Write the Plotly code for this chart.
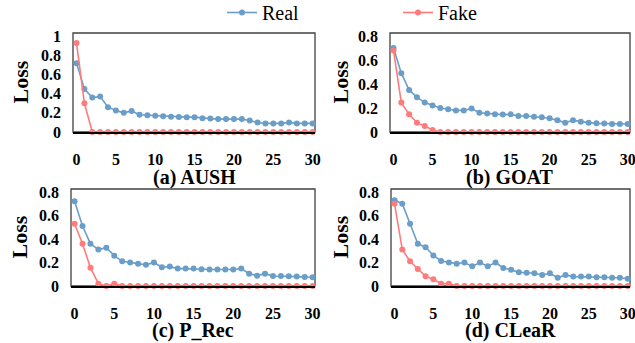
import plotly.graph_objects as go

epochs = list(range(31))

aush_real = [0.72, 0.45, 0.36, 0.37, 0.26, 0.225, 0.20, 0.22, 0.18, 0.175, 0.17, 0.165, 0.16, 0.158, 0.155,
             0.155, 0.145, 0.14, 0.135, 0.135, 0.135, 0.135, 0.12, 0.10, 0.09, 0.09, 0.09, 0.10, 0.09, 0.09, 0.09]
aush_fake = [0.93, 0.30] + [0.0] * 29

goat_real = [0.70, 0.49, 0.35, 0.29, 0.245, 0.22, 0.20, 0.19, 0.18, 0.18, 0.195, 0.16, 0.155, 0.147, 0.145,
             0.147, 0.133, 0.133, 0.128, 0.122, 0.114, 0.097, 0.078, 0.097, 0.086, 0.078, 0.072, 0.07, 0.067, 0.067, 0.067]
goat_fake = [0.68, 0.245, 0.147, 0.078, 0.05, 0.017] + [0.0] * 25

prec_real = [0.72, 0.51, 0.36, 0.31, 0.326, 0.258, 0.21, 0.20, 0.19, 0.18, 0.20, 0.16, 0.165, 0.148, 0.148,
             0.148, 0.142, 0.14, 0.14, 0.14, 0.14, 0.148, 0.105, 0.088, 0.105, 0.085, 0.085, 0.082, 0.08, 0.077, 0.074]
prec_fake = [0.53, 0.36, 0.156, 0.02, 0.0, 0.02] + [0.0] * 25

clear_real = [0.73, 0.70, 0.53, 0.36, 0.33, 0.26, 0.213, 0.20, 0.19, 0.20, 0.167, 0.20, 0.167, 0.20, 0.153,
              0.139, 0.116, 0.113, 0.108, 0.094, 0.108, 0.07, 0.094, 0.08, 0.08, 0.08, 0.074, 0.074, 0.07, 0.07, 0.062]
clear_fake = [0.70, 0.31, 0.21, 0.145, 0.082, 0.057, 0.02, 0.02] + [0.0] * 23

panels = [
    ("(a) AUSH", aush_real, aush_fake),
    ("(b) GOAT", goat_real, goat_fake),
    ("(c) P_Rec", prec_real, prec_fake),
    ("(d) CLeaR", clear_real, clear_fake),
]
y_tick_sets = [[0, 0.2, 0.4, 0.6, 0.8, 1], [0, 0.2, 0.4, 0.6, 0.8], [0, 0.2, 0.4, 0.6, 0.8], [0, 0.2, 0.4, 0.6, 0.8]]
y_ranges = [[0, 1.035], [0, 0.825], [0, 0.825], [0, 0.825]]
x_ticks = [0, 5, 10, 15, 20, 25, 30]

REAL_C = "#6a9ec8"
FAKE_C = "#ff7b7b"
W, H = 635, 343
FONT = "Liberation Serif"

# pixel boxes (left, right, top, bottom)
boxes = [(73, 315, 33, 132), (390, 630, 33, 132), (71, 315, 189, 286), (391, 630, 189, 286)]
title_y = [177, 177, 330, 330]
loss_x = [20, 340, 19, 340]

fig = go.Figure()
for i, (name, real, fake) in enumerate(panels):
    ax = "" if i == 0 else str(i + 1)
    fig.add_trace(go.Scatter(x=epochs, y=real, mode="lines+markers", name="Real",
                             line=dict(color=REAL_C, width=1.6), marker=dict(size=6, color=REAL_C),
                             xaxis="x" + ax, yaxis="y" + ax, showlegend=(i == 0), cliponaxis=False))
    fig.add_trace(go.Scatter(x=epochs, y=fake, mode="lines+markers", name="Fake",
                             line=dict(color=FAKE_C, width=1.6), marker=dict(size=6, color=FAKE_C),
                             xaxis="x" + ax, yaxis="y" + ax, showlegend=(i == 0), cliponaxis=False))
    l, r, t, b = boxes[i]
    xd = [l / W, r / W]
    yd = [1 - b / H, 1 - t / H]
    fig.layout["xaxis" + ax] = dict(domain=xd, anchor="y" + ax, range=[-0.45, 30.3], tickvals=x_ticks,
                                    showline=True, linecolor="black", linewidth=2, showgrid=False, zeroline=False,
                                    ticks="", ticklabelstandoff=12, automargin=False, ticklabeloverflow="allow",
                                    tickfont=dict(family=FONT, size=16, color="black", weight="bold"))
    fig.layout["yaxis" + ax] = dict(domain=yd, anchor="x" + ax, range=y_ranges[i], tickvals=y_tick_sets[i],
                                    ticktext=[("%g" % v) for v in y_tick_sets[i]], automargin=False,
                                    ticklabeloverflow="allow",
                                    showline=False, showgrid=False, zeroline=False, ticks="", ticklabelstandoff=11,
                                    tickfont=dict(family=FONT, size=16, color="black", weight="bold"))
    xr = "x" + ax + " domain"
    yr = "y" + ax + " domain"
    fig.add_shape(type="rect", xref=xr, yref=yr, x0=0, x1=1, y0=0, y1=1,
                  line=dict(color="#404040", width=1.3), layer="below")
    fig.add_annotation(text="<b>" + name + "</b>", x=(l + r) / 2 / W, y=1 - title_y[i] / H,
                       xref="paper", yref="paper", showarrow=False, xanchor="center", yanchor="middle",
                       font=dict(family=FONT, size=20, color="black"))
    fig.add_annotation(text="<b>Loss</b>", x=loss_x[i] / W, y=1 - (t + b) / 2 / H, textangle=-90,
                       xref="paper", yref="paper", showarrow=False, xanchor="center", yanchor="middle",
                       font=dict(family=FONT, size=22, color="black"))

fig.update_layout(
    width=W, height=H, margin=dict(l=0, r=0, t=0, b=0, autoexpand=False),
    paper_bgcolor="white", plot_bgcolor="white",
    legend=dict(orientation="h", x=222 / W, y=1 + 7 / H, xanchor="left", yanchor="top",
                entrywidth=131, entrywidthmode="pixels", itemwidth=30,
                font=dict(family=FONT, size=20, color="black"), bgcolor="rgba(0,0,0,0)",
                tracegroupgap=0),
)

fig.write_html("out.html", config={"displayModeBar": False},
               post_script="document.body.style.margin='0px';document.body.style.overflow='hidden';")
